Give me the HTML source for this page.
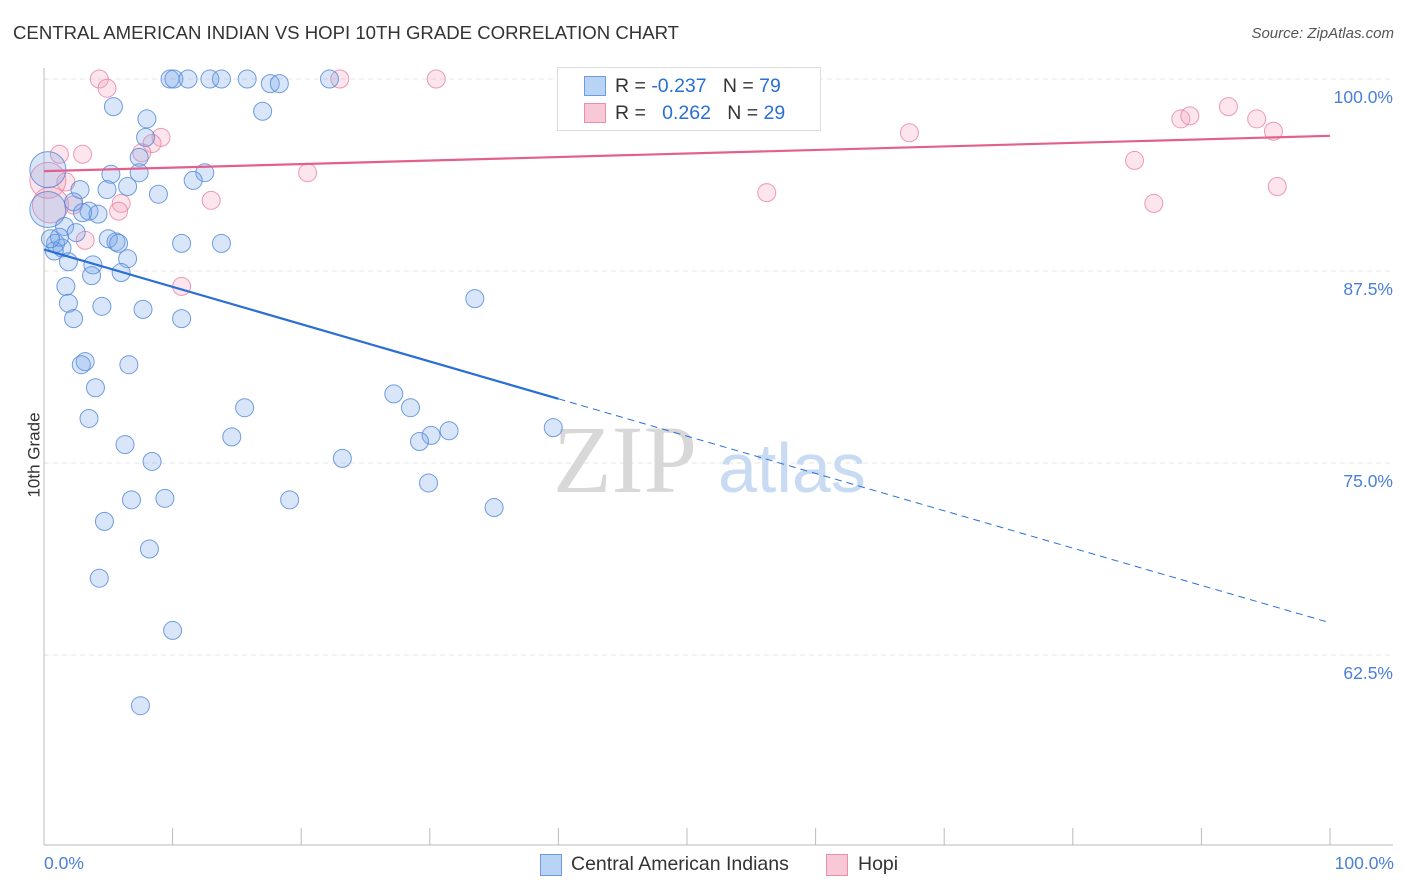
<!DOCTYPE html>
<html><head><meta charset="utf-8">
<style>
body{margin:0;background:#fff;font-family:"Liberation Sans",sans-serif;}
#wrap{position:relative;width:1406px;height:892px;overflow:hidden;}
.t{position:absolute;white-space:nowrap;}
</style></head><body>
<div id="wrap">
<div class="t" style="left:13px;top:22px;font-size:18.6px;color:#333;">CENTRAL AMERICAN INDIAN VS HOPI 10TH GRADE CORRELATION CHART</div>
<div class="t" style="right:12px;top:25px;font-size:15px;color:#555;font-style:italic;">Source: ZipAtlas.com</div>
<svg id="svg" width="1406" height="892" style="position:absolute;left:0;top:0"></svg>
</div>
<script>
const yTicks=[100,87.5,75,62.5];
const yTickLabels=["100.0%","87.5%","75.0%","62.5%"];
const blueX=[9.8,10.1,11.2,12.9,13.8,15.8,17.6,18.3,22.2,5.4,17.0,8.0,7.9,7.4,7.4,5.2,12.5,11.6,6.5,2.8,4.9,8.9,2.3,3.5,4.2,3.0,1.6,2.5,5.0,5.6,5.8,10.7,13.8,0.9,1.4,0.8,1.9,6.5,3.8,3.7,6.0,1.7,1.9,4.5,7.7,2.3,10.7,33.5,3.2,2.9,6.6,4.0,27.2,28.5,15.6,3.5,14.6,30.1,29.2,31.5,39.6,6.3,23.2,8.4,29.9,6.8,9.4,19.1,35.0,4.7,8.2,4.3,10.0,7.5,0.3,0.3,1.2,0.5];
const blueY=[100,100,100,100,100,100,99.7,99.7,100,98.2,97.9,97.4,96.2,94.9,93.9,93.8,93.9,93.4,93.0,92.8,92.8,92.5,92.0,91.4,91.2,91.3,90.4,90.0,89.6,89.4,89.3,89.3,89.3,89.3,89.0,88.8,88.1,88.3,87.9,87.2,87.4,86.5,85.4,85.2,85.0,84.4,84.4,85.7,81.6,81.4,81.4,79.9,79.5,78.6,78.6,77.9,76.7,76.8,76.4,77.1,77.3,76.2,75.3,75.1,73.7,72.6,72.7,72.6,72.1,71.2,69.4,67.5,64.1,59.2,94.1,91.5,89.7,89.6];
const blueBig=[74,75];
const pinkX=[4.3,4.9,23.0,30.5,9.1,8.4,7.6,1.2,3.0,1.7,20.5,2.3,6.0,5.8,13.0,3.2,10.7,0.3,0.5,67.3,56.2,84.8,86.3,88.4,89.1,92.1,94.3,95.6,95.9];
const pinkY=[100,99.4,100,100,96.2,95.8,95.2,95.1,95.1,93.3,93.9,91.8,91.9,91.4,92.1,89.5,86.5,93.4,91.8,96.5,92.6,94.7,91.9,97.4,97.6,98.2,97.4,96.6,93.0];
const pinkBig=[17,18];
const blueTrend=[88.9,64.6]; // at x=0 and x=100
const blueSolidEnd=40;
const pinkTrend=[94.0,96.3];

const NS="http://www.w3.org/2000/svg";
const svg=document.getElementById('svg');
const X=p=>44+p*12.86;
const Y=v=>79+(100-v)*15.36;
function mk(tag,attrs,parent){const e=document.createElementNS(NS,tag);for(const k in attrs)e.setAttribute(k,attrs[k]);(parent||svg).appendChild(e);return e;}
yTicks.forEach((v,i)=>{
 const g=mk('line',{x1:44,x2:1393,y1:Y(v),y2:Y(v),stroke:'#e4e4e4','stroke-dasharray':'5,4'});
 
 
 const t=mk('text',{x:1393,y:Y(v)+24,'text-anchor':'end','font-size':17.5,fill:'#4a7fd8','font-family':'Liberation Sans, sans-serif'});
 t.textContent=yTickLabels[i];
 
 
});
let a=mk('line',{x1:44,x2:44,y1:68,y2:845,stroke:'#bbb'});


a=mk('line',{x1:44,x2:1393,y1:845,y2:845,stroke:'#bbb'});


for(let i=1;i<=10;i++){const tk=mk('line',{x1:X(i*10),x2:X(i*10),y1:828,y2:845,stroke:'#bbb'});
 
 }
let w=mk('text',{x:553,y:492,'font-size':96,fill:'#d8d8d8','font-family':'Liberation Serif, serif'});w.textContent='ZIP';


w=mk('text',{x:718,y:492,'font-size':70,fill:'#c9dbf3','font-family':'Liberation Sans, sans-serif'});w.textContent='atlas';


function pts(xs,ys,big,fill,stroke,name){xs.forEach((x,i)=>{
 const c=mk('circle',{cx:X(x),cy:Y(ys[i]),r:big.includes(i)?18:9,fill:fill,stroke:stroke,'stroke-width':1});
 
 
});}
pts(pinkX,pinkY,pinkBig,'rgba(244,160,185,0.28)','rgba(232,130,165,0.8)','hopi-point');
pts(blueX,blueY,blueBig,'rgba(120,165,235,0.28)','rgba(80,135,215,0.8)','central-american-point');
const by=x=>blueTrend[0]+(blueTrend[1]-blueTrend[0])*x/100;
let l=mk('line',{x1:X(0),y1:Y(by(0)),x2:X(blueSolidEnd),y2:Y(by(blueSolidEnd)),stroke:'#2a6fd6','stroke-width':2.2});


l=mk('line',{x1:X(blueSolidEnd),y1:Y(by(blueSolidEnd)),x2:X(100),y2:Y(by(100)),stroke:'#2a6fd6','stroke-width':1,'stroke-dasharray':'7,5'});


l=mk('line',{x1:X(0),y1:Y(pinkTrend[0]),x2:X(100),y2:Y(pinkTrend[1]),stroke:'#e4608c','stroke-width':2.2});


</script>
<div class="t" style="left:-8px;top:445px;font-size:17px;color:#333;transform:rotate(-90deg);">10th Grade</div>
<div class="t" style="left:44px;top:853px;font-size:17.5px;color:#4a7fd8;">0.0%</div>
<div class="t" style="right:12px;top:853px;font-size:17.5px;color:#4a7fd8;">100.0%</div>
<div style="position:absolute;left:557px;top:67px;width:262px;height:62px;border:1px solid #ddd;background:#fff;font-size:19.5px;color:#333;">
 <div style="position:absolute;left:26px;top:8px;width:20px;height:18px;background:#b9d3f5;border:1px solid #6b9be0"></div>
 <div class="t" style="left:57px;top:7px">R = <span style="color:#2a6fd6">-0.237</span>&nbsp;&nbsp;&nbsp;N = <span style="color:#2a6fd6">79</span></div>
 <div style="position:absolute;left:26px;top:35px;width:20px;height:18px;background:#f8c8d6;border:1px solid #e890ac"></div>
 <div class="t" style="left:57px;top:34px">R = &nbsp;&nbsp;<span style="color:#2a6fd6">0.262</span>&nbsp;&nbsp;&nbsp;N = <span style="color:#2a6fd6">29</span></div>
</div>
<div style="position:absolute;left:540px;top:853px;font-size:19.5px;color:#333;">
 <div style="position:absolute;left:0;top:1px;width:20px;height:20px;background:#b9d3f5;border:1px solid #6b9be0"></div>
 <span style="position:absolute;left:31px;top:0;white-space:nowrap">Central American Indians</span></div>
<div style="position:absolute;left:826px;top:853px;font-size:19.5px;color:#333;">
 <div style="position:absolute;left:0;top:1px;width:20px;height:20px;background:#f8c8d6;border:1px solid #e890ac"></div>
 <span style="position:absolute;left:32px;top:0">Hopi</span></div>
</body></html>
